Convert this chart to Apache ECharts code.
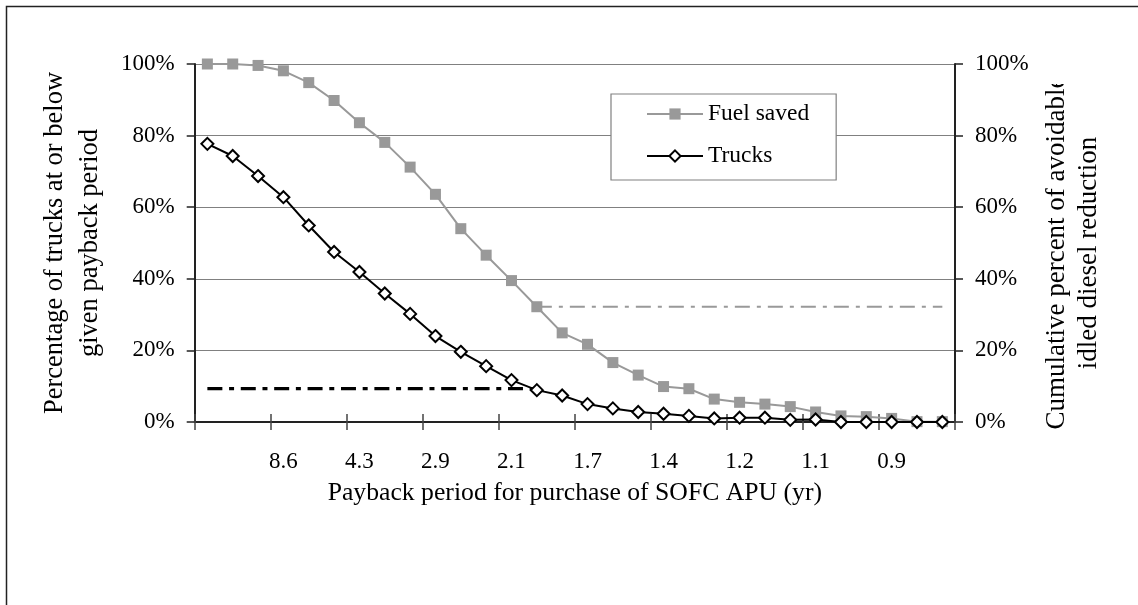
<!DOCTYPE html>
<html>
<head>
<meta charset="utf-8">
<script src="https://cdn.jsdelivr.net/npm/echarts@6/dist/echarts.min.js"></script>
<style>
  html, body { margin: 0; padding: 0; background: #fff; }
  #chart { width: 1138px; height: 605px; }
</style>
</head>
<body>
<div id="chart"></div>
<script>
// ---- data ----
const categories = ['', '', '', '8.6', '', '', '4.3', '', '', '2.9', '', '', '2.1', '', '', '1.7', '', '', '1.4', '', '', '1.2', '', '', '1.1', '', '', '0.9', '', ''];
const fuelSaved = [100, 100, 99.6, 98.1, 94.8, 89.8, 83.6, 78.1, 71.2, 63.6, 54.0, 46.6, 39.5, 32.2, 24.9, 21.7, 16.6, 13.1, 9.9, 9.3, 6.4, 5.5, 5.0, 4.3, 2.8, 1.7, 1.5, 1.0, 0.1, 0.1];
const trucks = [77.7, 74.3, 68.7, 62.8, 54.9, 47.5, 41.9, 35.9, 30.2, 24.0, 19.6, 15.6, 11.7, 8.9, 7.4, 5.0, 3.8, 2.8, 2.3, 1.7, 1.0, 1.2, 1.2, 0.6, 0.7, 0, 0, 0, 0, 0];
const trucksRefLevel = 9.3;   // black dash-dot reference
const trucksRefEnd = 13;      // category index where it ends
const fuelRefLevel = 32.2;    // grey dash-dot reference
const fuelRefStart = 13;      // category index where it starts
const yTicks = [0, 20, 40, 60, 80, 100];

const trucksRef = categories.map((_, i) => i <= trucksRefEnd ? trucksRefLevel : null);
const fuelRef = categories.map((_, i) => i >= fuelRefStart ? fuelRefLevel : null);

const FONT = 'Liberation Serif';
const chart = echarts.init(document.getElementById('chart'), null, { renderer: 'canvas' });

const yAxisBase = {
  type: 'value',
  min: yTicks[0],
  max: yTicks[yTicks.length - 1],
  interval: yTicks[1] - yTicks[0],
  axisLine: { show: true, lineStyle: { color: '#222', width: 2 } },
  axisTick: { show: true, length: 8, lineStyle: { color: '#222', width: 1.5 } },
  axisLabel: { formatter: '{value}%', fontFamily: FONT, fontSize: 23, color: '#000', margin: 20 },
  nameLocation: 'middle'
};

chart.setOption({
  animation: false,
  backgroundColor: '#fff',
  grid: { left: 194.7, right: 183, top: 64, bottom: 183, containLabel: false },
  legend: {
    data: ['Fuel saved', 'Trucks'],
    orient: 'vertical',
    left: 611, top: 94,
    padding: [7, 27, 11, 35],
    itemWidth: 56, itemHeight: 14, itemGap: 16,
    backgroundColor: '#fff',
    borderColor: '#808080', borderWidth: 1.2, borderRadius: 0,
    textStyle: { fontFamily: FONT, fontSize: 23.5, color: '#000', lineHeight: 26 },
    z: 10
  },
  xAxis: [{
    type: 'category',
    data: categories,
    boundaryGap: true,
    position: 'bottom',
    name: 'Payback period for purchase of SOFC APU (yr)',
    nameLocation: 'middle',
    nameGap: 58,
    nameTextStyle: { fontFamily: FONT, fontSize: 25.7, color: '#000' },
    axisLine: { show: true, lineStyle: { color: '#222', width: 2 } },
    axisTick: { show: true, interval: 2, length: 8, lineStyle: { color: '#444', width: 1.5 } },
    axisLabel: { interval: 2, fontFamily: FONT, fontSize: 23, color: '#000', margin: 28 },
    splitLine: { show: false }
  }, {
    type: 'category',
    data: categories,
    boundaryGap: true,
    position: 'bottom',
    axisLine: { show: false },
    axisTick: { show: true, inside: true, interval: 2, length: 8, lineStyle: { color: '#444', width: 1.5 } },
    axisLabel: { show: false },
    splitLine: { show: false }
  }],
  yAxis: [Object.assign({}, yAxisBase, {
    position: 'left',
    name: 'Percentage of trucks at or below\ngiven payback period',
    nameGap: 87,
    nameTextStyle: { fontFamily: FONT, fontSize: 26.5, color: '#000', lineHeight: 35, align: 'center' },
    splitLine: { show: true, lineStyle: { color: '#808080', width: 1.2 } }
  }), Object.assign({}, yAxisBase, {
    position: 'right',
    name: 'Cumulative percent of avoidable\nidled diesel reduction',
    nameGap: 86,
    nameTextStyle: { fontFamily: FONT, fontSize: 27, color: '#000', lineHeight: 32, align: 'center', padding: [0, 20, 0, 0] },
    splitLine: { show: false }
  })],
  series: [{
    name: 'Fuel saved',
    type: 'line',
    data: fuelSaved,
    yAxisIndex: 1,
    symbol: 'rect', symbolSize: 11, showAllSymbol: true,
    lineStyle: { color: '#999', width: 2 },
    itemStyle: { color: '#999' },
    z: 3
  }, {
    name: 'FuelRef',
    type: 'line',
    data: fuelRef,
    yAxisIndex: 1,
    symbol: 'none',
    lineStyle: { color: '#999', width: 2, type: [15, 7, 4, 7] },
    z: 2
  }, {
    name: 'TrucksRef',
    type: 'line',
    data: trucksRef,
    symbol: 'none',
    lineStyle: { color: '#000', width: 3.3, type: [15, 6.7, 5, 6.7] },
    z: 2
  }, {
    name: 'Trucks',
    type: 'line',
    data: trucks,
    symbol: 'diamond', symbolSize: 12, showAllSymbol: true,
    lineStyle: { color: '#000', width: 2 },
    itemStyle: { color: '#fff', borderColor: '#000', borderWidth: 2 },
    z: 4
  }],
  graphic: [{
    type: 'rect',
    shape: { x: 1036, y: 8, width: 42, height: 76 },
    style: { fill: '#fff' },
    z: 100
  }, {
    type: 'rect',
    shape: { x: 6.5, y: 6.5, width: 1300, height: 800 },
    style: { fill: 'none', stroke: '#222', lineWidth: 1.5 },
    silent: true,
    z: 101
  }]
});
</script>
</body>
</html>
